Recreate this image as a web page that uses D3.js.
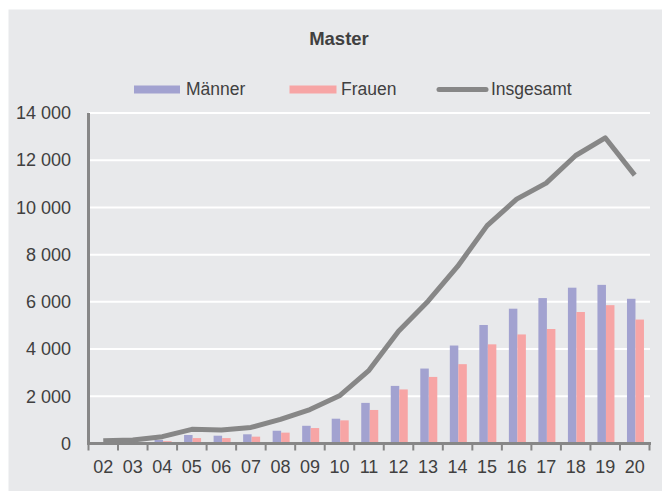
<!DOCTYPE html>
<html>
<head>
<meta charset="utf-8">
<script src="https://cdn.jsdelivr.net/npm/d3@7"></script>
<style>
  body { margin: 0; background: #fff; }
  text { font-family: Arial, "Liberation Sans", sans-serif; fill: #404040; }
</style>
</head>
<body>
<div id="chart"></div>
<script>
// data
const years = ["02","03","04","05","06","07","08","09","10","11","12","13","14","15","16","17","18","19","20"];
const maenner = [60, 80, 150, 360, 330, 390, 540, 750, 1050, 1720, 2440, 3175, 4150, 5020, 5710, 6160, 6600, 6720, 6130];
const frauen = [50, 60, 100, 230, 230, 290, 460, 655, 980, 1420, 2290, 2820, 3360, 4200, 4620, 4850, 5570, 5860, 5250];
const insgesamt = [120, 150, 290, 600, 570, 680, 1020, 1440, 2020, 3100, 4760, 6030, 7500, 9230, 10350, 11030, 12200, 12950, 11370];
const yTicks = [0, 2000, 4000, 6000, 8000, 10000, 12000, 14000];

const W = 662, H = 491;
const colM = "#a2a2d0", colF = "#f7a5a5", colLine = "#878787";

let svg = d3.select("#chart").append("svg")
    .attr("width", W)
    .attr("height", H);

// panel background
svg.append("rect")
    .attr("x", 8.5).attr("y", 9.5)
    .attr("width", W - 8.5).attr("height", H - 9.5)
    .attr("fill", "#e8e9eb");

let x = d3.scaleBand().domain(years).range([88.5, 649.5]);
let x1 = d3.scaleBand().domain(["m", "f"]).range([7, 24]);
let y = d3.scaleLinear().domain([0, 14000]).range([443.5, 113]);

let fmt = d3.formatLocale({ decimal: ",", thousands: " ", grouping: [3], currency: ["", ""] }).format(",");

// gridlines
svg.append("g").selectAll("line")
    .data(yTicks.slice(1))
    .enter().append("line")
    .attr("x1", 89).attr("x2", 650)
    .attr("y1", d => y(d)).attr("y2", d => y(d))
    .attr("stroke", "#fff").attr("stroke-width", 2);

// y axis labels
let yAxis = svg.append("g")
    .attr("transform", "translate(89,0)")
    .call(d3.axisLeft(y).tickValues(yTicks).tickSize(0).tickPadding(18).tickFormat(fmt));
yAxis.select(".domain").remove();
yAxis.selectAll("text").style("font-size", "18px").attr("fill", "#404040");

// bars
let grp = svg.append("g").selectAll("g")
    .data(years)
    .enter().append("g")
    .attr("transform", d => "translate(" + x(d) + ",0)");

grp.append("rect")
    .attr("fill", colM)
    .attr("x", x1("m"))
    .attr("width", x1.bandwidth())
    .attr("y", (d, i) => y(maenner[i]))
    .attr("height", (d, i) => y(0) - y(maenner[i]));

grp.append("rect")
    .attr("fill", colF)
    .attr("x", x1("f"))
    .attr("width", x1.bandwidth())
    .attr("y", (d, i) => y(frauen[i]))
    .attr("height", (d, i) => y(0) - y(frauen[i]));

// axes lines
svg.append("line")
    .attr("x1", 88.5).attr("x2", 88.5)
    .attr("y1", 113).attr("y2", 445)
    .attr("stroke", colLine).attr("stroke-width", 3);

svg.append("line")
    .attr("x1", 87).attr("x2", 651)
    .attr("y1", y(0)).attr("y2", y(0))
    .attr("stroke", colLine).attr("stroke-width", 3);

// boundary ticks
let bounds = years.map(d => x(d)).concat([x.range()[1]]);
svg.append("g").selectAll("line")
    .data(bounds)
    .enter().append("line")
    .attr("x1", d => d).attr("x2", d => d)
    .attr("y1", y(0)).attr("y2", y(0) + 7)
    .attr("stroke", colLine).attr("stroke-width", 2);

// x labels
let xAxis = svg.append("g")
    .attr("transform", "translate(0," + y(0) + ")")
    .call(d3.axisBottom(x).tickSize(0).tickPadding(17));
xAxis.select(".domain").remove();
xAxis.selectAll("text").style("font-size", "18px").attr("fill", "#404040");

// total line
let line = d3.line()
    .x((d, i) => x(years[i]) + x.bandwidth() / 2)
    .y(d => y(d));

svg.append("path")
    .datum(insgesamt)
    .attr("d", line)
    .attr("fill", "none")
    .attr("stroke", colLine)
    .attr("stroke-width", 5)
    .attr("stroke-linejoin", "round");

// title
svg.append("text")
    .attr("x", 339).attr("y", 45)
    .attr("text-anchor", "middle")
    .style("font-size", "18.5px")
    .style("font-weight", "bold")
    .text("Master");

// legend
let legend = svg.append("g");
legend.append("rect").attr("x", 134).attr("y", 85.5).attr("width", 46).attr("height", 8).attr("fill", colM);
legend.append("text").attr("x", 186).attr("y", 95).style("font-size", "17.5px").text("Männer");
legend.append("rect").attr("x", 289.5).attr("y", 85.5).attr("width", 47).attr("height", 8).attr("fill", colF);
legend.append("text").attr("x", 341).attr("y", 95).style("font-size", "17.5px").text("Frauen");
legend.append("line").attr("x1", 439).attr("x2", 486).attr("y1", 89.5).attr("y2", 89.5)
    .attr("stroke", colLine).attr("stroke-width", 5).attr("stroke-linecap", "round");
legend.append("text").attr("x", 491).attr("y", 95).style("font-size", "17.5px").text("Insgesamt");
</script>
</body>
</html>
